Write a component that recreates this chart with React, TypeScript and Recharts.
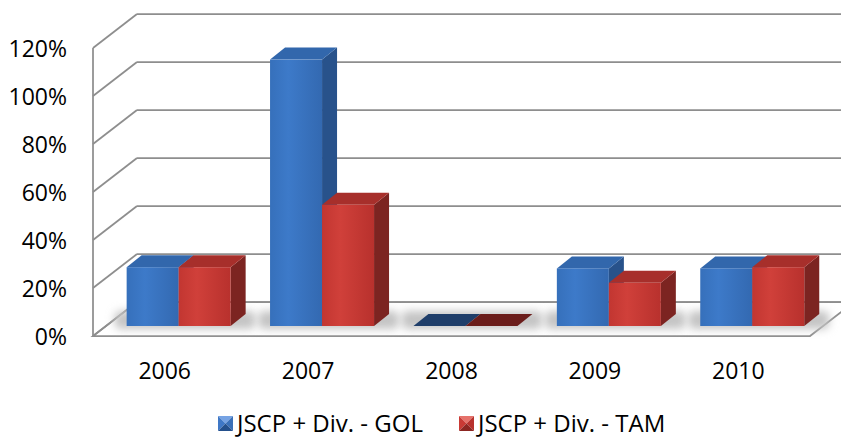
import { BarChart, Bar, XAxis, YAxis, CartesianGrid, Legend } from "recharts";

const years = ["2006", "2007", "2008", "2009", "2010"];
const golValues = [0.245, 1.11, 0, 0.24, 0.24];
const tamValues = [0.245, 0.505, 0, 0.18, 0.245];
const yTicks = [0, 0.2, 0.4, 0.6, 0.8, 1, 1.2];
const seriesNames = ["JSCP + Div. - GOL", "JSCP + Div. - TAM"];

const data = years.map((year, i) => ({ year, gol: golValues[i], tam: tamValues[i] }));

const FONT = '"Open Sans", sans-serif';
const FONT_SIZE = 23;

// oblique "3D" offsets, relative to the plane the bars are plotted in
const FRONT_DX = -14;
const FRONT_DY = 10;
const BACK_DX = 30;
const BACK_DY = -24;
const BAR_DX = 15;
const BAR_DY = 12;
const WALL = "#8e8e8e";

type Palette = { front: string; top: string; side: string; flat: string; light: string; mid: string; midDark: string; dark: string };

const blue: Palette = {
  front: "url(#blueFront)", top: "#3267ac", side: "#28528b", flat: "#1f3e6a",
  light: "#76a3e4", mid: "#3f78c6", midDark: "#3a70b8", dark: "#24508c",
};
const red: Palette = {
  front: "url(#redFront)", top: "#a72f2b", side: "#7c2421", flat: "#6b1d1b",
  light: "#e6726b", mid: "#c93a35", midDark: "#b8322e", dark: "#8c2622",
};

function make3DBar(c: Palette, withShadow: boolean) {
  return (props: any) => {
    const { x, y, width: w, height: h } = props;
    if (x == null || y == null || w == null) return null;
    const base = y + (h || 0);
    const flat = !h || h < 0.5;
    return (
      <g>
        {withShadow && (
          <rect
            x={x - 12}
            y={base - BAR_DY - 3}
            width={2 * w + BAR_DX + 22}
            height={BAR_DY + 6}
            rx={6}
            fill="#c4c4c4"
            filter="url(#soft)"
          />
        )}
        {!flat && (
          <polygon
            points={`${x + w},${y} ${x + w + BAR_DX},${y - BAR_DY} ${x + w + BAR_DX},${base - BAR_DY} ${x + w},${base}`}
            fill={c.side}
          />
        )}
        <polygon
          points={`${x},${y} ${x + w},${y} ${x + w + BAR_DX},${y - BAR_DY} ${x + BAR_DX},${y - BAR_DY}`}
          fill={flat ? c.flat : c.top}
        />
        {!flat && <rect x={x} y={y} width={w} height={h} fill={c.front} />}
      </g>
    );
  };
}

function wallLine(props: any) {
  const { x1, x2, y1, y, height, key } = props;
  const bottom = y != null && height != null ? y + height : 326;
  const top = y != null ? y : 38;
  const isFloor = Math.abs(y1 - bottom) < 0.5;
  return (
    <g key={key}>
      {isFloor && (
        <>
          <polygon
            points={`${x1 + FRONT_DX},${y1 + FRONT_DY} ${x2 + FRONT_DX},${y1 + FRONT_DY} ${x2 + BACK_DX},${y1 + BACK_DY} ${x1 + BACK_DX},${y1 + BACK_DY}`}
            fill="#ffffff"
            stroke={WALL}
            strokeWidth={1.75}
          />
          <line x1={x1 + FRONT_DX} y1={top + FRONT_DY} x2={x1 + FRONT_DX} y2={bottom + FRONT_DY} stroke={WALL} strokeWidth={1.75} />
        </>
      )}
      <line x1={x1 + FRONT_DX} y1={y1 + FRONT_DY} x2={x1 + BACK_DX} y2={y1 + BACK_DY} stroke={WALL} strokeWidth={1.75} />
      <line x1={x1 + BACK_DX} y1={y1 + BACK_DY} x2={x2 + 80} y2={y1 + BACK_DY} stroke={WALL} strokeWidth={1.75} />
    </g>
  );
}

function YTick({ x, y, payload }: any) {
  return (
    <text x={x + FRONT_DX - 26} y={y + 19} textAnchor="end" fontFamily={FONT} fontSize={FONT_SIZE} fill="#000">
      {`${Math.round(payload.value * 100)}%`}
    </text>
  );
}

function XTick({ x, y, payload }: any) {
  return (
    <text x={x + FRONT_DX} y={y + 53} textAnchor="middle" fontFamily={FONT} fontSize={FONT_SIZE} fill="#000">
      {payload.value}
    </text>
  );
}

function Marker({ c }: { c: Palette }) {
  return (
    <svg width={15} height={15} style={{ display: "block" }}>
      <polygon points="0,0 15,0 7.5,7.5" fill={c.light} />
      <polygon points="0,0 7.5,7.5 0,15" fill={c.mid} />
      <polygon points="15,0 15,15 7.5,7.5" fill={c.midDark} />
      <polygon points="0,15 15,15 7.5,7.5" fill={c.dark} />
    </svg>
  );
}

function LegendContent() {
  const palettes = [blue, red];
  return (
    <div style={{ display: "flex", justifyContent: "flex-start", gap: 36, paddingLeft: 218, fontFamily: FONT, fontSize: 24, color: "#000" }}>
      {seriesNames.map((name, i) => (
        <div key={name} style={{ display: "flex", alignItems: "center", gap: 4 }}>
          <Marker c={palettes[i]} />
          <span style={{ lineHeight: "26px", whiteSpace: "nowrap" }}>{name}</span>
        </div>
      ))}
    </div>
  );
}

export default function App() {
  return (
    <div style={{ position: "absolute", left: 0, top: 0, width: 841, height: 442, background: "#fff", overflow: "hidden" }}>
      <BarChart
        width={841}
        height={442}
        data={data}
        margin={{ top: 38, right: 17, left: 0, bottom: 0 }}
        barCategoryGap="13.7%"
        barGap={0}
      >
        <defs>
          <linearGradient id="blueFront" x1="0" y1="0" x2="1" y2="0">
            <stop offset="0%" stopColor="#3670bb" />
            <stop offset="35%" stopColor="#3d7ac9" />
            <stop offset="100%" stopColor="#3369b1" />
          </linearGradient>
          <linearGradient id="redFront" x1="0" y1="0" x2="1" y2="0">
            <stop offset="0%" stopColor="#c23631" />
            <stop offset="35%" stopColor="#d0403a" />
            <stop offset="100%" stopColor="#b8312d" />
          </linearGradient>
          <filter id="soft" x="-20%" y="-100%" width="140%" height="300%">
            <feGaussianBlur stdDeviation="4" />
          </filter>
        </defs>
        <CartesianGrid vertical={false} horizontal={wallLine} />
        <XAxis
          dataKey="year"
          height={116}
          axisLine={false}
          tickLine={false}
          tickSize={0}
          tickMargin={0}
          tick={<XTick />}
          interval={0}
        />
        <YAxis
          width={107}
          domain={[0, 1.2]}
          ticks={yTicks}
          axisLine={false}
          tickLine={false}
          tickSize={0}
          tickMargin={0}
          tick={<YTick />}
        />
        <Legend
          layout="vertical"
          verticalAlign="middle"
          align="center"
          wrapperStyle={{ top: 410, left: 0, width: 841 }}
          content={<LegendContent />}
        />
        <Bar dataKey="gol" name={seriesNames[0]} shape={make3DBar(blue, true)} isAnimationActive={false} />
        <Bar dataKey="tam" name={seriesNames[1]} shape={make3DBar(red, false)} isAnimationActive={false} />
      </BarChart>
    </div>
  );
}
